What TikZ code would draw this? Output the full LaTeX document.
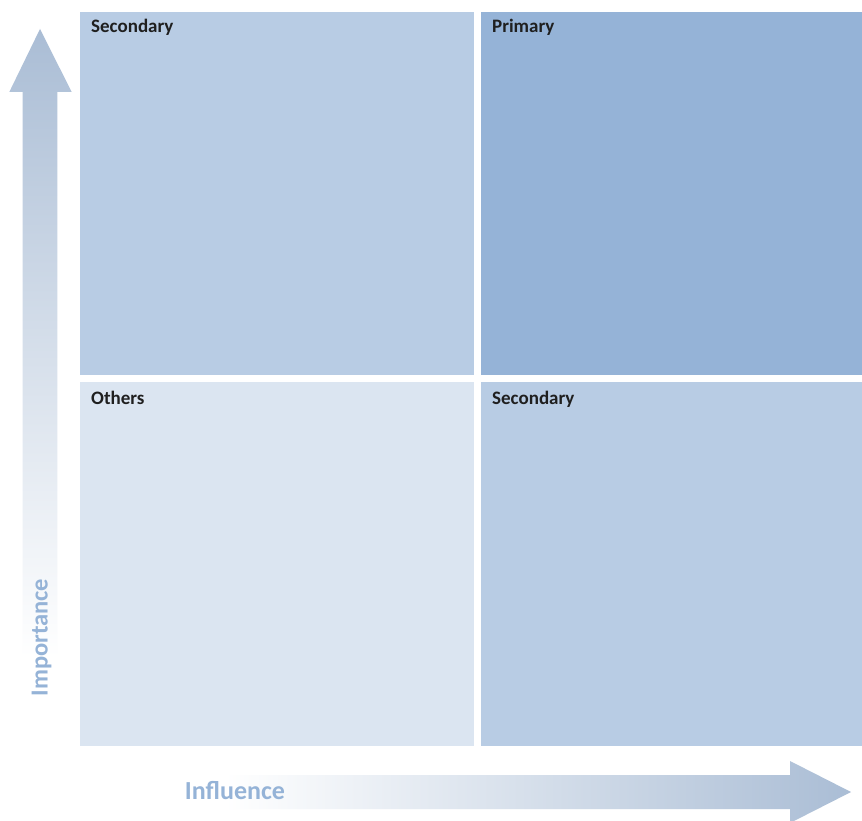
\documentclass[tikz,border=0pt]{standalone}
\usepackage{fontspec}
\setmainfont{Carlito}
\definecolor{qlight}{HTML}{DBE5F1}
\definecolor{qmid}{HTML}{B8CCE4}
\definecolor{qdark}{HTML}{95B3D7}
\definecolor{arrowc}{HTML}{AABDD5}
\definecolor{labelc}{HTML}{1F1F1F}
\definecolor{axisc}{HTML}{95B3D7}
\tikzset{
  quad/.style={draw=none, inner sep=0pt, anchor=north west},
  qlabel/.style={anchor=base west, inner sep=0pt, font=\bfseries\fontsize{19}{21}\selectfont, text=labelc},
  axlabel/.style={inner sep=0pt, anchor=base, text=axisc},
}
\begin{document}
\begin{tikzpicture}[x=1pt,y=-1pt]
\useasboundingbox[fill=white] (0,0) rectangle (862,821);
% quadrants
\node[quad, fill=qmid, minimum width=394pt, minimum height=363.5pt] (tl) at (80,11.5) {};
\node[quad, fill=qdark, minimum width=381pt, minimum height=363.5pt] (tr) at (481,11.5) {};
\node[quad, fill=qlight, minimum width=394pt, minimum height=364pt] (bl) at (80,382) {};
\node[quad, fill=qmid, minimum width=381pt, minimum height=364pt] (br) at (481,382) {};
% labels
\node[qlabel] (ltl) at (91,33) {Secondary};
\node[qlabel] (ltr) at (492,33) {Primary};
\node[qlabel] (lbl) at (91,404) {Others};
\node[qlabel] (lbr) at (492,404) {Secondary};
% vertical arrow
\shade[top color=arrowc, bottom color=white]
  (22.7,657) -- (22.7,92) -- (9.3,92) -- (40,29) -- (71.7,92) -- (57.3,92) -- (57.3,657) -- cycle;
% horizontal arrow
\shade[left color=white, right color=arrowc]
  (225,775) -- (790,775) -- (790,761) -- (851,792) -- (790,823) -- (790,809) -- (225,809) -- cycle;
% axis labels
\node[axlabel, rotate=90, font=\bfseries\fontsize{24.5}{26}\selectfont] (imp) at (47.5,637.5) {Importance};
\node[axlabel, font=\bfseries\fontsize{26}{28}\selectfont] (inf) at (235,799.3) {Influence};
\end{tikzpicture}
\end{document}
